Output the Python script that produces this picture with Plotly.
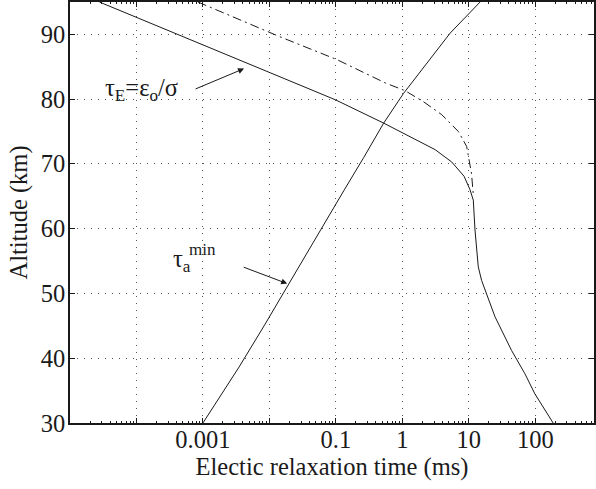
import plotly.graph_objects as go

# Electric relaxation time tau_E = eps0 / sigma (ms) vs altitude (km)
tau_e_alt = [95, 90, 85, 83.5, 79.9, 76.3, 73.8, 72.2, 70.3, 68.1, 66.0, 64.4, 59.8, 54.1, 52.0, 46.4, 41.2, 37.6, 34.5, 30]
tau_e_ms = [2.77e-5, 4.11e-4, 6.1e-3, 1.39e-2, 9.86e-2, 0.524, 1.56, 3.12, 5.53, 8.49, 10.45, 11.7, 12.4, 13.9, 15.6, 24.8, 44.0, 70.0, 98.7, 186]

# Dash-dot variant above ~65 km
tau_e2_alt = [95, 89.7, 86.1, 82.5, 81.3, 79.6, 77.6, 75.0, 72.7, 70.6, 68.5, 65.2]
tau_e2_ms = [8.4e-4, 1.39e-2, 0.104, 0.555, 1.107, 2.08, 3.92, 6.98, 9.29, 10.1, 11.0, 11.7]

# Minimum attachment time tau_a^min (ms) vs altitude (km)
tau_a_alt = [30, 34, 38.65, 45, 51.5, 56.7, 61.3, 66, 71, 76.3, 80.9, 86.1, 90.2, 95]
tau_a_ms = [1.0e-3, 1.79e-3, 3.50e-3, 8.32e-3, 1.95e-2, 3.93e-2, 7.21e-2, 0.134, 0.263, 0.524, 1.045, 2.57, 5.25, 14.8]

x_tickvals = [1e-5, 1e-4, 1e-3, 1e-2, 1e-1, 1, 10, 100]
x_ticktext = ["", "", "0.001", "", "0.1", "1", "10", "100"]
x_minor = [m * 10.0 ** e for e in range(-5, 3) for m in range(2, 10)]
y_tickvals = [30, 40, 50, 60, 70, 80, 90]

FONT = "Times New Roman, Liberation Serif, Tinos, DejaVu Serif, serif"
INK = "#1a1a1a"
FS = 24.5

fig = go.Figure()
fig.add_trace(go.Scatter(x=tau_e2_ms, y=tau_e2_alt, mode="lines",
                         line=dict(color=INK, width=1, dash="9px,4px,2px,4px")))
fig.add_trace(go.Scatter(x=tau_e_ms, y=tau_e_alt, mode="lines",
                         line=dict(color=INK, width=1)))
fig.add_trace(go.Scatter(x=tau_a_ms, y=tau_a_alt, mode="lines",
                         line=dict(color=INK, width=1)))

fig.update_xaxes(type="log", range=[-5, 2.884], tickmode="array",
                 tickvals=x_tickvals, ticktext=x_ticktext, ticklabelstandoff=-6,
                 minor=dict(ticks="inside", ticklen=2, tickcolor=INK, tickmode="array",
                            tickvals=x_minor, showgrid=False),
                 tickfont=dict(family=FONT, size=FS, color=INK),
                 title=dict(text="Electic relaxation time (ms)", font=dict(family=FONT, size=FS, color=INK), standoff=0),
                 showline=True, linecolor=INK, linewidth=1.5, mirror="ticks",
                 ticks="inside", ticklen=5, tickcolor=INK,
                 showgrid=True, gridcolor="#555555", gridwidth=1, griddash="1px,6px", zeroline=False)
fig.update_yaxes(range=[30, 95], tickmode="array", tickvals=y_tickvals, ticklabelstandoff=-2,
                 tickfont=dict(family=FONT, size=FS, color=INK),
                 title=dict(text="Altitude (km)", font=dict(family=FONT, size=FS, color=INK), standoff=6),
                 showline=True, linecolor=INK, linewidth=1.5, mirror="ticks",
                 ticks="inside", ticklen=5, tickcolor=INK,
                 showgrid=True, gridcolor="#555555", gridwidth=1, griddash="1px,6px", zeroline=False)

ann_font = dict(family=FONT, size=FS, color=INK)
fig.add_annotation(x=-2.381, y=84.72, xref="x", yref="y", text="",
                   showarrow=True, arrowhead=2, arrowsize=1.2, arrowwidth=1, arrowcolor=INK,
                   ax=-50, ay=21)
fig.add_annotation(x=-4.511, y=81.52, xref="x", yref="y", xanchor="left", yanchor="middle",
                   text="τ<sub>E</sub>=ε<sub>o</sub>/σ", showarrow=False, font=ann_font)
fig.add_annotation(x=-1.732, y=51.52, xref="x", yref="y", text="",
                   showarrow=True, arrowhead=2, arrowsize=1.2, arrowwidth=1, arrowcolor=INK,
                   ax=-45, ay=-17)
fig.add_annotation(x=-3.476, y=55.12, xref="x", yref="y", xanchor="left", yanchor="middle",
                   text="τ<sub>a</sub>", showarrow=False, font=ann_font)
fig.add_annotation(x=-3.236, y=56.82, xref="x", yref="y", xanchor="left", yanchor="middle",
                   text="min", showarrow=False, font=dict(family=FONT, size=17, color=INK))

fig.update_layout(
    width=596, height=489,
    margin=dict(l=70, r=0, t=2, b=66),
    paper_bgcolor="white", plot_bgcolor="white",
    font=dict(family=FONT, size=FS, color=INK),
    showlegend=False,
)

fig.write_html("out.html")
